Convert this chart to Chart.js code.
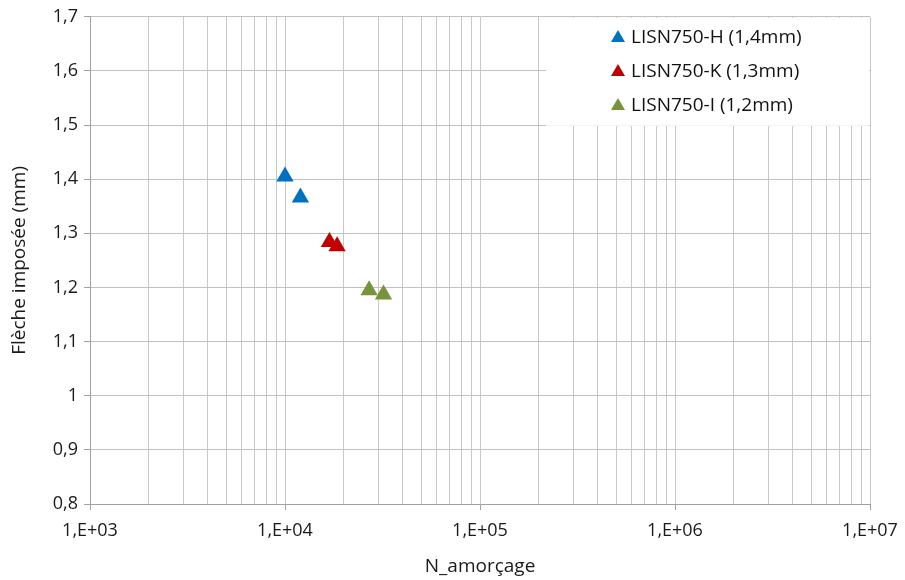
<!DOCTYPE html>
<html lang="fr">
<head>
  <meta charset="UTF-8" />
  <title>Flèche imposée vs N_amorçage</title>
  <script src="https://cdn.jsdelivr.net/npm/chart.js"></script>
  <style>
    html, body { margin: 0; padding: 0; background: #fff; }
    #wrap { width: 905px; height: 580px; }
  </style>
</head>
<body>
  <div id="wrap"><canvas id="chart" width="905" height="580"></canvas></div>

  <script>
    // Séries
    const seriesNames = ['LISN750-H (1,4mm)', 'LISN750-K (1,3mm)', 'LISN750-I (1,2mm)'];
    const seriesColors = ['#0070C0', '#C00000', '#77933C'];
    const hCycles = [10000, 12000];
    const hFleche = [1.405, 1.366];
    const kCycles = [16900, 18500];
    const kFleche = [1.284, 1.276];
    const iCycles = [27000, 32000];
    const iFleche = [1.195, 1.187];

    const yTicks = [0.8, 0.9, 1, 1.1, 1.2, 1.3, 1.4, 1.5, 1.6, 1.7];

    const toPoints = (xs, ys) => xs.map((x, i) => ({ x: x, y: ys[i] }));
    const allX = [hCycles, kCycles, iCycles];
    const allY = [hFleche, kFleche, iFleche];

    const datasets = seriesNames.map((name, i) => ({
      label: name,
      data: toPoints(allX[i], allY[i]),
      pointStyle: 'triangle',
      pointRadius: 10,
      pointHoverRadius: 10,
      backgroundColor: seriesColors[i],
      borderColor: seriesColors[i],
      borderWidth: 0,
      showLine: false
    }));

    const family = '"Open Sans", sans-serif';
    const font = { family: family, size: 18 };
    const titleFont = { family: family, size: 19 };

    // Légende dessinée dans la zone de tracé, fond blanc
    const legendBox = {
      id: 'legendBox',
      beforeDatasetsDraw(chart) {
        const c = chart.ctx;
        const area = chart.chartArea;
        c.save();
        c.fillStyle = '#fff';
        c.fillRect(546, area.top + 1, area.right - 546 - 1, 108);
        c.font = '19px ' + family;
        c.textBaseline = 'middle';
        c.textAlign = 'left';
        chart.data.datasets.forEach((ds, i) => {
          const y = 37 + i * 34;
          const x = 618;
          c.fillStyle = ds.backgroundColor;
          c.beginPath();
          c.moveTo(x, y - 7);
          c.lineTo(x + 7, y + 5);
          c.lineTo(x - 7, y + 5);
          c.closePath();
          c.fill();
          c.fillStyle = '#111';
          c.fillText(ds.label, x + 13, y + 1);
        });
        c.restore();
      }
    };

    new Chart(document.getElementById('chart'), {
      type: 'scatter',
      data: { datasets: datasets },
      options: {
        responsive: false,
        animation: false,
        layout: { padding: { top: 16, right: 35, left: 0, bottom: 0 } },
        plugins: {
          legend: { display: false },
          tooltip: { enabled: false }
        },
        scales: {
          x: {
            type: 'logarithmic',
            min: 1000,
            max: 10000000,
            afterFit(scale) {
              scale.height = 76;
              scale.paddingLeft = 0;
              scale.paddingRight = 0;
            },
            afterBuildTicks(scale) {
              const t = [];
              for (let e = 3; e < 7; e++) {
                for (let m = 1; m < 10; m++) t.push({ value: m * Math.pow(10, e) });
              }
              t.push({ value: 1e7 });
              scale.ticks = t;
            },
            grid: {
              color: '#c8c8c8',
              lineWidth: 1,
              drawTicks: true,
              tickLength: 6,
              tickColor: (ctx) => {
                const v = ctx.tick ? ctx.tick.value : 0;
                const l = Math.log10(v);
                return Math.abs(l - Math.round(l)) < 1e-9 ? '#a0a0a0' : 'rgba(0,0,0,0)';
              }
            },
            border: { color: '#a0a0a0' },
            ticks: {
              autoSkip: false,
              maxRotation: 0,
              color: '#1a1a1a',
              font: font,
              padding: 10,
              callback(v) {
                const l = Math.log10(v);
                if (Math.abs(l - Math.round(l)) > 1e-9) return '';
                return '1,E+' + String(Math.round(l)).padStart(2, '0');
              }
            },
            title: {
              display: true,
              text: 'N_amorçage',
              color: '#1a1a1a',
              font: titleFont,
              padding: { top: 0, bottom: 2 }
            }
          },
          y: {
            min: 0.8,
            max: 1.7,
            afterFit(scale) { scale.width = 90; },
            afterBuildTicks(scale) {
              scale.ticks = yTicks.map(v => ({ value: v }));
            },
            grid: {
              color: '#c0c0c0',
              tickLength: 6,
              tickColor: '#a0a0a0'
            },
            border: { color: '#a0a0a0' },
            ticks: {
              color: '#1a1a1a',
              font: font,
              padding: 6,
              callback(v) {
                return String(Math.round(v * 10) / 10).replace('.', ',');
              }
            },
            title: {
              display: true,
              text: 'Flèche imposée (mm)',
              color: '#1a1a1a',
              font: titleFont,
              padding: { top: 8, bottom: 0 }
            }
          }
        }
      },
      plugins: [legendBox]
    });
  </script>
</body>
</html>
